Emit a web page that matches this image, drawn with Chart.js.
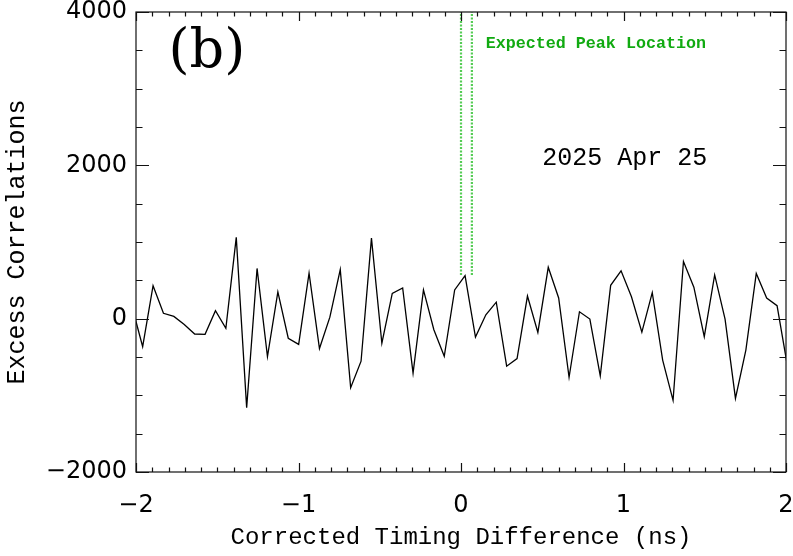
<!DOCTYPE html>
<html>
<head>
<meta charset="utf-8">
<script src="https://cdn.jsdelivr.net/npm/chart.js@4"></script>
<style>
  body { margin: 0; background: #fff; }
  canvas { display: block; }
</style>
</head>
<body>
<canvas id="grafico" width="793" height="556"></canvas>
<script>
// bin centres (ns); first and last fall just outside the axis and get clipped
const timing = [
  -2.023, -1.959, -1.895, -1.831, -1.767, -1.703, -1.639, -1.575, -1.511, -1.447,
  -1.383, -1.319, -1.255, -1.191, -1.127, -1.063, -0.999, -0.935, -0.871, -0.807,
  -0.743, -0.679, -0.615, -0.551, -0.487, -0.423, -0.359, -0.295, -0.231, -0.167,
  -0.103, -0.039, 0.025, 0.089, 0.153, 0.217, 0.281, 0.345, 0.409, 0.473,
  0.537, 0.601, 0.665, 0.729, 0.793, 0.857, 0.921, 0.985, 1.049, 1.113,
  1.177, 1.241, 1.305, 1.369, 1.433, 1.497, 1.561, 1.625, 1.689, 1.753,
  1.817, 1.881, 1.945, 2.009
];
const excess = [
  145, -365, 430, 70, 30, -75, -200, -205, 105, -125,
  1060, -1160, 655, -495, 350, -255, -335, 595, -390, 20,
  640, -900, -555, 1050, -320, 330, 400, -710, 375, -145,
  -490, 375, 560, -240, 50, 215, -620, -520, 295, -180,
  670, 270, -765, 90, -5, -745, 435, 625, 285, -175,
  340, -540, -1065, 745, 410, -235, 570, -5, -1040, -410,
  590, 270, 170, -620
];
// expected peak window
const peakLeft = 0.0;
const peakRight = 0.067;
const peakBottom = 570;
const peakTop = 4000;

const xTicks = [-2, -1, 0, 1, 2];
const yTicks = [-2000, 0, 2000, 4000];

const serieDatos = timing.map((t, i) => ({ x: t, y: excess[i] }));

const etiqueta = (v) => (v < 0 ? "\u2212" + Math.abs(v) : String(v));

// IDL-style frame with inward major/minor ticks, plus text labels
const marcoPlugin = {
  id: "marco",
  afterDraw(chart) {
    const c = chart.ctx;
    const a = chart.chartArea;
    const xs = chart.scales.x;
    const ys = chart.scales.y;
    c.save();
    c.strokeStyle = "#111";
    c.lineWidth = 1.2;
    c.strokeRect(a.left, a.top, a.right - a.left, a.bottom - a.top);
    c.beginPath();
    for (let v = -20; v <= 20; v++) {
      const px = Math.round(xs.getPixelForValue(v / 10)) + 0.5;
      const len = v % 10 === 0 ? 9 : 4.5;
      c.moveTo(px, a.bottom); c.lineTo(px, a.bottom - len);
      c.moveTo(px, a.top); c.lineTo(px, a.top + len);
    }
    for (let v = -2000; v <= 4000; v += 500) {
      const py = Math.round(ys.getPixelForValue(v)) + 0.5;
      const len = v % 2000 === 0 ? 13 : 6.5;
      c.moveTo(a.left, py); c.lineTo(a.left + len, py);
      c.moveTo(a.right, py); c.lineTo(a.right - len, py);
    }
    c.stroke();

    c.textBaseline = "middle";
    c.textAlign = "left";
    c.fillStyle = "#000";
    c.font = "54px 'DejaVu Serif'";
    c.fillText("(b)", xs.getPixelForValue(-1.8), ys.getPixelForValue(3470));
    c.font = "25px 'Liberation Mono'";
    c.fillText("2025 Apr 25", xs.getPixelForValue(0.5), ys.getPixelForValue(2090));
    c.fillStyle = "#11aa11";
    c.font = "bold 16.7px 'Liberation Mono'";
    c.fillText("Expected Peak Location", xs.getPixelForValue(0.152), ys.getPixelForValue(3580));
    c.restore();
  },
};

new Chart(document.getElementById("grafico").getContext("2d"), {
  type: "line",
  data: {
    datasets: [
      {
        label: "Excess",
        data: serieDatos,
        borderColor: "#000",
        borderWidth: 1.3,
        pointRadius: 0,
        tension: 0,
        fill: false,
      },
      {
        label: "peak left",
        data: [{ x: peakLeft, y: peakBottom }, { x: peakLeft, y: peakTop }],
        borderColor: "#55cc55",
        borderWidth: 2.2,
        borderDash: [2, 1.5],
        pointRadius: 0,
      },
      {
        label: "peak right",
        data: [{ x: peakRight, y: peakBottom }, { x: peakRight, y: peakTop }],
        borderColor: "#55cc55",
        borderWidth: 2.2,
        borderDash: [2, 1.5],
        pointRadius: 0,
      },
    ],
  },
  options: {
    responsive: false,
    animation: false,
    layout: { padding: { top: 12, right: 7, left: 0, bottom: 0 } },
    plugins: {
      legend: { display: false },
      tooltip: { enabled: false },
    },
    scales: {
      x: {
        type: "linear",
        min: -2,
        max: 2,
        afterFit: (s) => {
          s.height = 84;
          s.paddingLeft = 0;
          s.paddingRight = 0;
        },
        afterBuildTicks: (s) => { s.ticks = xTicks.map((v) => ({ value: v })); },
        grid: { display: false, drawTicks: false },
        border: { display: false },
        ticks: {
          color: "#000",
          font: { family: "DejaVu Sans", size: 24 },
          padding: 19,
          maxRotation: 0,
          callback: etiqueta,
        },
        title: {
          display: true,
          text: "Corrected Timing Difference (ns)",
          color: "#000",
          font: { family: "Liberation Mono", size: 24 },
          padding: { top: 0, bottom: 4 },
        },
      },
      y: {
        type: "linear",
        min: -2000,
        max: 4000,
        afterFit: (s) => {
          s.width = 136;
          s.paddingTop = 0;
          s.paddingBottom = 0;
        },
        afterBuildTicks: (s) => { s.ticks = yTicks.map((v) => ({ value: v })); },
        grid: { display: false, drawTicks: false },
        border: { display: false },
        ticks: {
          color: "#000",
          font: { family: "DejaVu Sans", size: 24 },
          padding: 9,
          callback: etiqueta,
        },
        title: {
          display: true,
          text: "Excess Correlations",
          color: "#000",
          font: { family: "Liberation Mono", size: 25 },
          padding: { top: 2, bottom: 0 },
        },
      },
    },
  },
  plugins: [marcoPlugin],
});
</script>
</body>
</html>
